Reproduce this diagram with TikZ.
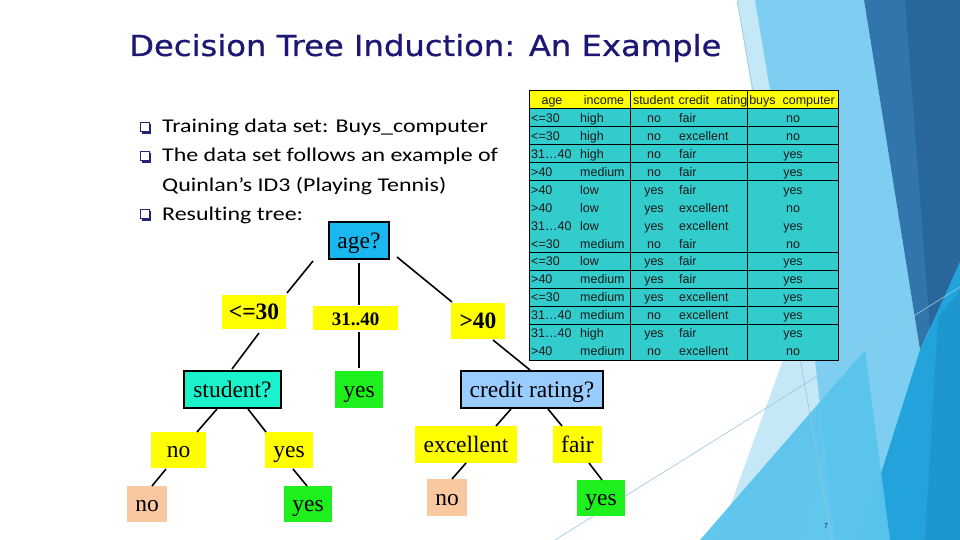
\documentclass[tikz,border=0pt]{standalone}
\usepackage{graphicx}
\usepackage{fontspec}
\setmainfont{Liberation Serif}
\newfontfamily\titlefont[FakeBold=0.6]{DejaVu Sans}
\newfontfamily\bulletfont[Ligatures={NoCommon}]{Carlito}
\newfontfamily\tablefont{Liberation Sans}
\definecolor{titleblue}{RGB}{30,24,116}
\definecolor{bulletblue}{RGB}{36,36,120}
\definecolor{tealc}{RGB}{51,204,204}
\definecolor{agec}{RGB}{26,184,240}
\definecolor{studc}{RGB}{26,242,204}
\definecolor{credc}{RGB}{153,204,255}
\definecolor{yel}{RGB}{255,255,0}
\definecolor{grn}{RGB}{30,240,30}
\definecolor{peach}{RGB}{250,200,160}
\definecolor{bgvlight}{RGB}{196,232,246}
\definecolor{bglight}{RGB}{125,206,240}
\definecolor{bgdark}{RGB}{48,118,172}
\definecolor{bgdarkb}{RGB}{40,103,156}
\definecolor{bgbright}{RGB}{34,163,220}
\definecolor{bgbrightb}{RGB}{30,150,206}
\definecolor{bgmed}{RGB}{90,196,236}
\definecolor{bgline}{RGB}{150,200,222}
\definecolor{tabtext}{RGB}{25,25,25}
\tikzset{
  tabtxt/.style={inner sep=0, text=tabtext, font=\tablefont\fontsize{12.5}{13}\selectfont},
  treebox/.style={inner sep=0, text height=17pt, text depth=2pt, font=\fontsize{23.5}{24}\selectfont, align=center},
  framed/.style={draw=black, line width=1.4pt},
  conn/.style={draw=black, line width=1.6pt},
  bullettxt/.style={inner sep=0, anchor=base west},
}
\newcommand{\bul}[1]{\scalebox{1.227}[1]{\bulletfont\fontsize{19.5}{20}\selectfont #1}}
\newcommand{\bulsq}[1]{%
  \fill[bulletblue] (141.6,#1-9.4) rectangle (150.6,#1+0.6);
  \filldraw[fill=white, draw=bulletblue, line width=0.8pt] (140,#1-11) rectangle (149,#1-2);
}
\begin{document}
\begin{tikzpicture}[x=1pt,y=-1pt]
\useasboundingbox (0,0) rectangle (960,540);
\fill[white] (0,0) rectangle (960,540);
% ---- background facets ----
\fill[bgvlight] (737,0) -- (760,0) -- (850,330) -- (800,540) -- (718,540) -- (792,335) -- cycle;
\fill[bglight] (755,0) -- (864,0) -- (920,350) -- (880,540) -- (835,540) -- (815,360) -- cycle;
\fill[bgdark] (864,0) -- (960,0) -- (960,262) -- (920,350) -- cycle;
\fill[bgdarkb] (905,0) -- (960,0) -- (960,262) -- (930,330) -- cycle;
\fill[bgbright] (920,350) -- (960,262) -- (960,540) -- (860,540) -- cycle;
\fill[bgbrightb] (938,318) -- (960,290) -- (960,540) -- (925,540) -- cycle;
\fill[bgmed, opacity=0.95] (700,540) -- (865,350) -- (890,540) -- cycle;
\draw[bgline, line width=0.6pt] (737,0) -- (832,540);
\draw[bgline, line width=0.6pt] (555,540) -- (960,287);
% ---- title ----
\node[anchor=base west, inner sep=0, text=titleblue] (title) at (129,56)
  {\resizebox{592pt}{22pt}{\titlefont Decision Tree Induction: An Example}};
% ---- bullets ----
\bulsq{133}
\bulsq{162}
\bulsq{220}
\node[bullettxt] (b1) at (162,133) {\bul{Training data set: Buys\_computer}};
\node[bullettxt] (b2) at (162,162) {\bul{The data set follows an example of}};
\node[bullettxt] (b3) at (162,191) {\bul{Quinlan’s ID3 (Playing Tennis)}};
\node[bullettxt] (b4) at (162,220) {\bul{Resulting tree:}};
% ---- table ----
\fill[tealc] (529,91) rectangle (838,360);
\fill[yel] (529,91) rectangle (838,108.93);
\foreach \k in {0,1,2,3,4,8,9,10,11,12}{
  \draw[black, line width=0.9pt] (529,{91+17.93*(\k+1)}) -- (838,{91+17.93*(\k+1)});
}
\draw[black, line width=0.9pt] (630,91) -- (630,360);
\draw[black, line width=0.9pt] (747,91) -- (747,360);
\draw[black, line width=1pt] (529,91) rectangle (838,360);
\node[tabtxt, anchor=base] (h1) at (552,104.5) {age};
\node[tabtxt, anchor=base] (h2) at (604,104.5) {income};
\node[tabtxt, anchor=base] (h3) at (653.5,104.5) {student};
\node[tabtxt, anchor=base] (h4) at (713,104.5) {credit\ \ rating};
\node[tabtxt, anchor=base] (h5) at (792,104.5) {buys\ \ computer};
\foreach \a/\b/\c/\d/\e [count=\i] in {
  {<=30}/high/no/fair/no,
  {<=30}/high/no/excellent/no,
  {31…40}/high/no/fair/yes,
  {>40}/medium/no/fair/yes,
  {>40}/low/yes/fair/yes,
  {>40}/low/yes/excellent/no,
  {31…40}/low/yes/excellent/yes,
  {<=30}/medium/no/fair/no,
  {<=30}/low/yes/fair/yes,
  {>40}/medium/yes/fair/yes,
  {<=30}/medium/yes/excellent/yes,
  {31…40}/medium/no/excellent/yes,
  {31…40}/high/yes/fair/yes,
  {>40}/medium/no/excellent/no}{
  \pgfmathsetmacro\yb{91+17.93*\i+8.96+4.6}
  \node[tabtxt, anchor=base west] (ra\i) at (531,\yb) {\a};
  \node[tabtxt, anchor=base west] (rb\i) at (580,\yb) {\b};
  \node[tabtxt, anchor=base] (rc\i) at (654,\yb) {\c};
  \node[tabtxt, anchor=base west] (rd\i) at (679,\yb) {\d};
  \node[tabtxt, anchor=base] (re\i) at (793,\yb) {\e};
}
% ---- tree nodes ----
\node[treebox, framed, fill=agec, minimum width=60pt, minimum height=37pt] (age) at (359,240.5) {age?};
\node[treebox, fill=yel, minimum width=64pt, minimum height=34pt, font=\bfseries\fontsize{23.5}{24}\selectfont] (lt30) at (254,312) {<=30};
\node[treebox, fill=yel, minimum width=85pt, minimum height=24pt, font=\bfseries\fontsize{19}{20}\selectfont] (mid) at (355.5,318) {31..40};
\node[treebox, fill=yel, minimum width=54pt, minimum height=36pt, font=\bfseries\fontsize{23.5}{24}\selectfont] (gt40) at (478,321) {>40};
\node[treebox, framed, fill=studc, minimum width=97pt, minimum height=37pt] (stud) at (232.5,389.5) {student?};
\node[treebox, fill=grn, minimum width=48pt, minimum height=37pt] (ymid) at (359,389.5) {yes};
\node[treebox, framed, fill=credc, minimum width=142pt, minimum height=37pt] (cred) at (532,389.5) {credit rating?};
\node[treebox, fill=yel, minimum width=55pt, minimum height=36pt] (sno) at (178.5,450) {no};
\node[treebox, fill=yel, minimum width=48pt, minimum height=36pt] (syes) at (289,450) {yes};
\node[treebox, fill=yel, minimum width=102pt, minimum height=37pt] (exc) at (466,444.5) {excellent};
\node[treebox, fill=yel, minimum width=49pt, minimum height=37pt] (fair) at (577.5,444.5) {fair};
\node[treebox, fill=peach, minimum width=40pt, minimum height=36pt] (lno) at (147,504) {no};
\node[treebox, fill=grn, minimum width=48pt, minimum height=36pt] (lyes) at (308,504) {yes};
\node[treebox, fill=peach, minimum width=40pt, minimum height=37pt] (rno) at (447,497.5) {no};
\node[treebox, fill=grn, minimum width=48pt, minimum height=36pt] (ryes) at (601,498) {yes};
% ---- connectors ----
\coordinate (c1a) at (313,261); \coordinate (c1b) at (287,293);
\coordinate (c2a) at (359,263); \coordinate (c2b) at (359,305);
\coordinate (c3a) at (397,257); \coordinate (c3b) at (452,302);
\coordinate (c4a) at (259,333); \coordinate (c4b) at (232,369);
\coordinate (c5a) at (359,332); \coordinate (c5b) at (359,368);
\coordinate (c6a) at (493,340); \coordinate (c6b) at (530,370);
\coordinate (c7a) at (217,409); \coordinate (c7b) at (197,432);
\coordinate (c8a) at (248,409); \coordinate (c8b) at (266,432);
\coordinate (c9a) at (166,469); \coordinate (c9b) at (152,486);
\coordinate (c10a) at (293,469); \coordinate (c10b) at (307,486);
\coordinate (c11a) at (511,409); \coordinate (c11b) at (496,426);
\coordinate (c12a) at (548,409); \coordinate (c12b) at (562,426);
\coordinate (c13a) at (466,463); \coordinate (c13b) at (452,479);
\coordinate (c14a) at (589,463); \coordinate (c14b) at (602,480);
\foreach \n in {1,...,14}{ \draw[conn] (c\n a) -- (c\n b); }
% ---- page number ----
\node[inner sep=0, text=titleblue, font=\tablefont\fontsize{7}{8}\selectfont] (pg) at (826,526) {7};
\end{tikzpicture}
\end{document}
